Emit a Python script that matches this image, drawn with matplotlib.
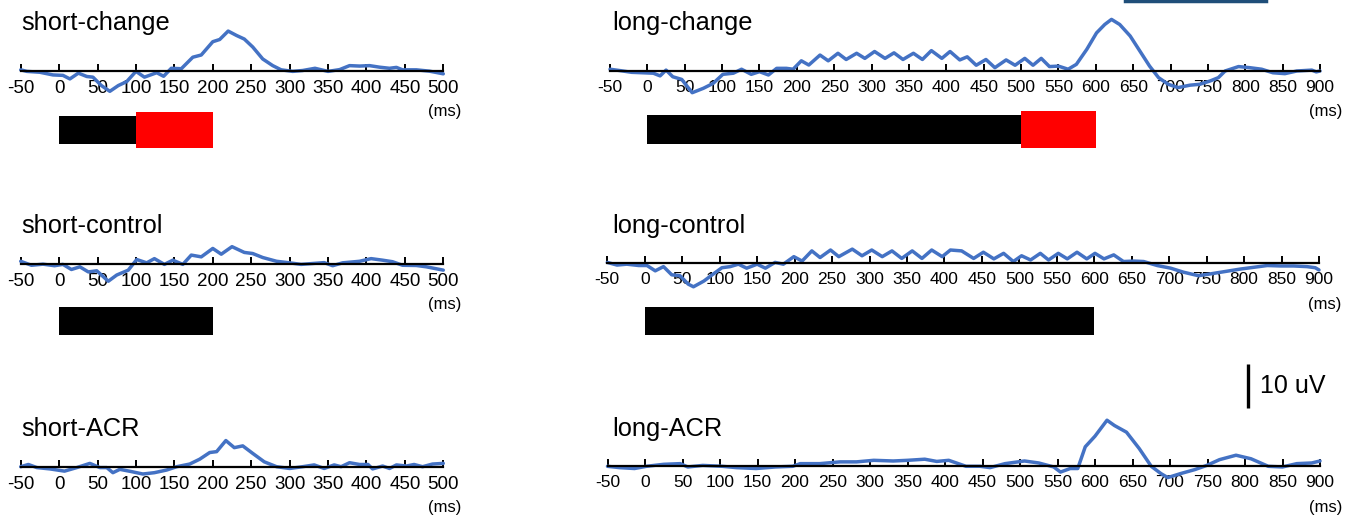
import numpy as np
import matplotlib
matplotlib.use("Agg")
import matplotlib.pyplot as plt
from matplotlib.lines import Line2D

plt.rcParams['font.family'] = ['Liberation Sans', 'DejaVu Sans']

# ---------------------------------------------------------------- data (ms, uV)
short_change_t = [-50, -42, -25, -8, 5, 14, 25, 36, 44, 55, 66, 77, 88, 100, 111, 127, 136, 146,
                  159, 174, 185, 200, 209, 220, 231, 241, 252, 265, 278, 289, 304, 317, 333, 350,
                  365, 378, 391, 404, 417, 430, 439, 447, 465, 482, 500]
short_change_v = [0.15, -0.2, -0.4, -1.0, -1.1, -1.9, -0.6, -1.35, -1.5, -3.4, -4.7, -3.4, -2.5, -0.2,
                  -1.5, -0.5, -1.3, 0.5, 0.4, 3.0, 3.5, 6.5, 7.0, 8.9, 7.9, 7.1, 5.3, 2.6, 1.1, 0.15,
                  -0.2, 0.0, 0.5, -0.2, 0.2, 1.1, 1.0, 1.1, 0.75, 0.5, 0.7, 0.15, 0.15, -0.15, -0.75]

short_control_t = [-50, -36, -21, -6, 5, 16, 27, 38, 49, 64, 75, 90, 101, 114, 124, 137, 148, 161,
                   172, 185, 200, 211, 225, 241, 252, 265, 283, 300, 315, 330, 345, 356, 369, 391,
                   406, 421, 434, 447, 465, 478, 500]
short_control_v = [0.5, -0.4, -0.15, -0.5, -0.2, -1.35, -0.75, -1.9, -1.65, -4.0, -2.6, -1.5, 0.9, 0.15,
                   1.1, -0.2, 0.75, -0.2, 1.9, 1.5, 3.4, 2.1, 3.8, 2.5, 2.25, 1.35, 0.5, 0.15, -0.2,
                   0.0, 0.2, -0.5, 0.15, 0.5, 1.1, 0.75, 0.4, -0.4, -0.45, -0.75, -1.5]

short_acr_t = [-50, -40, -29, -12, 7, 23, 40, 53, 62, 70, 79, 94, 109, 124, 140, 153, 170, 183, 196,
               205, 217, 228, 239, 252, 267, 283, 300, 317, 332, 345, 358, 367, 378, 391, 402, 408,
               421, 430, 439, 452, 462, 473, 486, 500]
short_acr_v = [0.0, 0.5, -0.2, -0.5, -1.0, -0.2, 0.75, -0.2, -0.2, -1.35, -0.6, -1.1, -1.65, -1.35,
               -0.75, 0.0, 0.6, 1.7, 3.2, 3.4, 5.9, 4.3, 4.7, 3.0, 1.1, 0.0, -0.4, 0.0, 0.4, -0.4,
               0.4, 0.0, 0.9, 0.5, 0.5, -0.5, 0.15, -0.4, 0.4, 0.15, 0.5, 0.0, 0.6, 0.75]

long_change_t = [-50, -37, -21, -6, 8, 17, 25, 34, 46, 52, 60, 75, 88, 101, 115, 126, 139, 150, 162,
                 173, 186, 195, 206, 216, 231, 242, 255, 266, 280, 291, 304, 318, 330, 342, 356, 368,
                 380, 394, 405, 418, 428, 440, 453, 465, 480, 492, 505, 516, 527, 538, 550, 563, 574,
                 588, 601, 612, 621, 632, 646, 659, 672, 684, 697, 710, 726, 739, 753, 764, 773, 791,
                 806, 822, 837, 853, 869, 889, 895, 900]
long_change_v = [0.4, 0.1, -0.3, -0.4, -0.5, -1.1, 0.2, -1.3, -1.9, -3.2, -4.9, -3.9, -2.8, -0.75,
                 -0.5, 0.4, -0.75, -0.15, -0.9, 0.6, 0.6, 0.4, 2.3, 1.35, 3.6, 2.3, 4.0, 2.6, 4.0,
                 2.85, 4.4, 2.85, 4.1, 2.6, 4.0, 2.6, 4.6, 2.85, 4.4, 2.5, 3.2, 1.3, 2.6, 0.75, 2.5,
                 1.3, 2.85, 1.3, 2.85, 1.0, 1.1, 0.4, 1.5, 4.9, 8.6, 10.5, 11.65, 10.5, 7.9, 4.5,
                 1.1, -1.5, -3.0, -3.75, -3.2, -3.0, -2.25, -1.5, 0.0, 1.0, 0.75, 0.4, -0.4, -0.6,
                 0.0, 0.2, -0.2, 0.0]

long_control_t = [-50, -37, -24, -8, 3, 14, 25, 36, 47, 58, 65, 79, 90, 103, 114, 125, 136, 150, 161,
                  174, 185, 199, 210, 223, 234, 248, 259, 277, 290, 303, 317, 330, 343, 357, 370,
                  383, 397, 408, 423, 439, 452, 466, 479, 492, 503, 515, 528, 539, 552, 564, 577,
                  590, 601, 613, 626, 639, 653, 666, 684, 702, 719, 739, 751, 773, 795, 813, 831,
                  849, 866, 884, 895, 900]
long_control_v = [0.2, -0.4, -0.2, -0.5, -0.5, -1.7, -0.75, -2.6, -2.8, -4.7, -5.3, -4.0, -2.6, -1.0,
                  -0.75, -0.2, -1.1, -0.2, -1.1, 0.2, -0.2, 1.5, 0.5, 2.8, 1.3, 3.0, 1.5, 3.2, 1.7,
                  3.0, 1.5, 2.8, 1.1, 2.8, 1.1, 3.0, 1.5, 3.0, 2.8, 1.1, 2.5, 1.0, 2.25, 0.4, 1.7,
                  0.75, 2.25, 0.75, 2.25, 1.0, 2.5, 1.0, 2.25, 1.0, 1.9, 0.4, 0.5, 0.4, -0.5, -1.1,
                  -2.0, -2.8, -2.5, -1.9, -1.3, -0.9, -0.5, -0.6, -0.6, -0.75, -1.0, -1.5]

long_acr_t = [-50, -34, -14, 2, 25, 47, 57, 77, 103, 122, 148, 174, 197, 207, 233, 260, 282, 305,
              331, 350, 373, 389, 405, 428, 447, 460, 480, 506, 525, 545, 554, 567, 577, 587, 600,
              616, 626, 642, 659, 675, 688, 697, 714, 733, 749, 766, 788, 808, 831, 850, 869, 889,
              900]
long_acr_v = [0.0, -0.3, -0.5, 0.0, 0.45, 0.6, -0.15, 0.2, 0.0, -0.3, -0.5, -0.15, 0.0, 0.6, 0.6,
              1.0, 1.0, 1.35, 1.2, 1.35, 1.6, 1.1, 1.35, 0.0, 0.0, -0.3, 0.6, 1.2, 0.75, -0.15,
              -1.3, -0.5, -0.5, 4.4, 6.8, 10.4, 9.2, 7.7, 4.0, 0.0, -1.65, -2.55, -1.65, -0.75, 0.2,
              1.5, 2.5, 1.7, 0.0, -0.15, 0.6, 0.75, 1.2]

# stimulus segments (onset ms, duration ms)
short_std = (0, 100)
short_dev = (100, 100)
short_ctl = (0, 200)
long_std = (0, 500)
long_dev = (500, 100)
long_ctl = (0, 600)

titles = ['short-change', 'long-change', 'short-control', 'long-control', 'short-ACR', 'long-ACR']
scale_uv = 10

# ---------------------------------------------------------------- layout
W, H = 1353, 515
fig = plt.figure(figsize=(W / 100, H / 100), dpi=100)
PX_UV = 4.43
YLO, YHI = -6, 14
blue = '#4472C4'


def px_axes(x0, x1, ytop, ybot):
    return fig.add_axes([x0 / W, 1 - ybot / H, (x1 - x0) / W, (ybot - ytop) / H])


def wave(x0, x1, y0, t, v, xmax, fs):
    ax = px_axes(x0, x1, y0 - YHI * PX_UV, y0 - YLO * PX_UV)
    ax.plot(t, v, color=blue, lw=2.5, clip_on=False, solid_capstyle='round',
            solid_joinstyle='round')
    ax.set_xlim(-50, xmax)
    ax.set_ylim(YLO, YHI)
    ax.patch.set_visible(False)
    for s in ['top', 'left', 'right']:
        ax.spines[s].set_visible(False)
    ax.spines['bottom'].set_position(('data', 0))
    ax.spines['bottom'].set_linewidth(1.6)
    ax.set_yticks([])
    ticks = np.arange(-50, xmax + 1, 50)
    ax.set_xticks(ticks)
    ax.set_xticklabels([str(k) for k in ticks], fontsize=fs)
    ax.tick_params(axis='x', direction='in', length=5, width=1.4, pad=6.5)
    return ax


def stim(x0, x1, yc, xmax, segs):
    ax = px_axes(x0, x1, yc - 20, yc + 20)
    ax.set_xlim(-50, xmax)
    ax.set_ylim(-20, 20)
    ax.axis('off')
    for (on, dur), col, h in segs:
        ax.barh(0, dur, left=on, height=h, color=col, edgecolor='none')
    return ax


def ms_label(ax, xmax, dx):
    ax.annotate('(ms)', xy=(xmax, 0), xytext=(dx, -29.5), textcoords='offset points',
                ha='center', va='center', fontsize=12, annotation_clip=False)


S0, S1 = 20.7, 443.3
rows = [
    (S0, S1, 70.5, short_change_t, short_change_v, 500, 13.5),
    (610, 1320, 71, long_change_t, long_change_v, 900, 12.5),
    (S0, S1, 263.5, short_control_t, short_control_v, 500, 13.5),
    (607.3, 1319, 263.3, long_control_t, long_control_v, 900, 12.5),
    (S0, S1, 466.7, short_acr_t, short_acr_v, 500, 13.5),
    (607.5, 1320, 466.3, long_acr_t, long_acr_v, 900, 12.5),
]
axes = []
for x0, x1, y0, t, v, xmax, fs in rows:
    ax = wave(x0, x1, y0, t, v, xmax, fs)
    ms_label(ax, xmax, 1 if xmax == 500 else 4)
    axes.append(ax)

# titles
title_pos = [(21.7, 30), (612, 30), (21.7, 233), (612, 233), (21.7, 436), (612, 436)]
for (tx, ty), lab in zip(title_pos, titles):
    fig.text(tx / W, 1 - ty / H, lab, fontsize=18.3, va='baseline', ha='left')

# stimulus bars
stim(S0, S1, 130, 500, [(short_std, 'black', 28), (short_dev, 'red', 36)])
stim(610, 1320, 129.5, 900, [(long_std, 'black', 29), (long_dev, 'red', 37)])
stim(S0, S1, 321, 500, [(short_ctl, 'black', 28)])
stim(607.3, 1319, 321, 900, [(long_ctl, 'black', 28)])

# 10 uV scale bar, drawn in the long-ACR axes
ax = axes[5]
xb = 804
ax.plot([xb, xb], [13.2, 13.2 + scale_uv], color='black', lw=2.4, clip_on=False,
        solid_capstyle='butt')
ax.annotate('10 uV', xy=(xb, 13.2 + scale_uv / 2), xytext=(9, 0), textcoords='offset points',
            ha='left', va='center', fontsize=18, annotation_clip=False)

# dark blue strip at top right
fig.add_artist(Line2D([1125 / W, 1266 / W], [1 - 1 / H, 1 - 1 / H], color='#1F4E79', lw=2.5,
                      transform=fig.transFigure))

fig.savefig('out.png', dpi=100)
